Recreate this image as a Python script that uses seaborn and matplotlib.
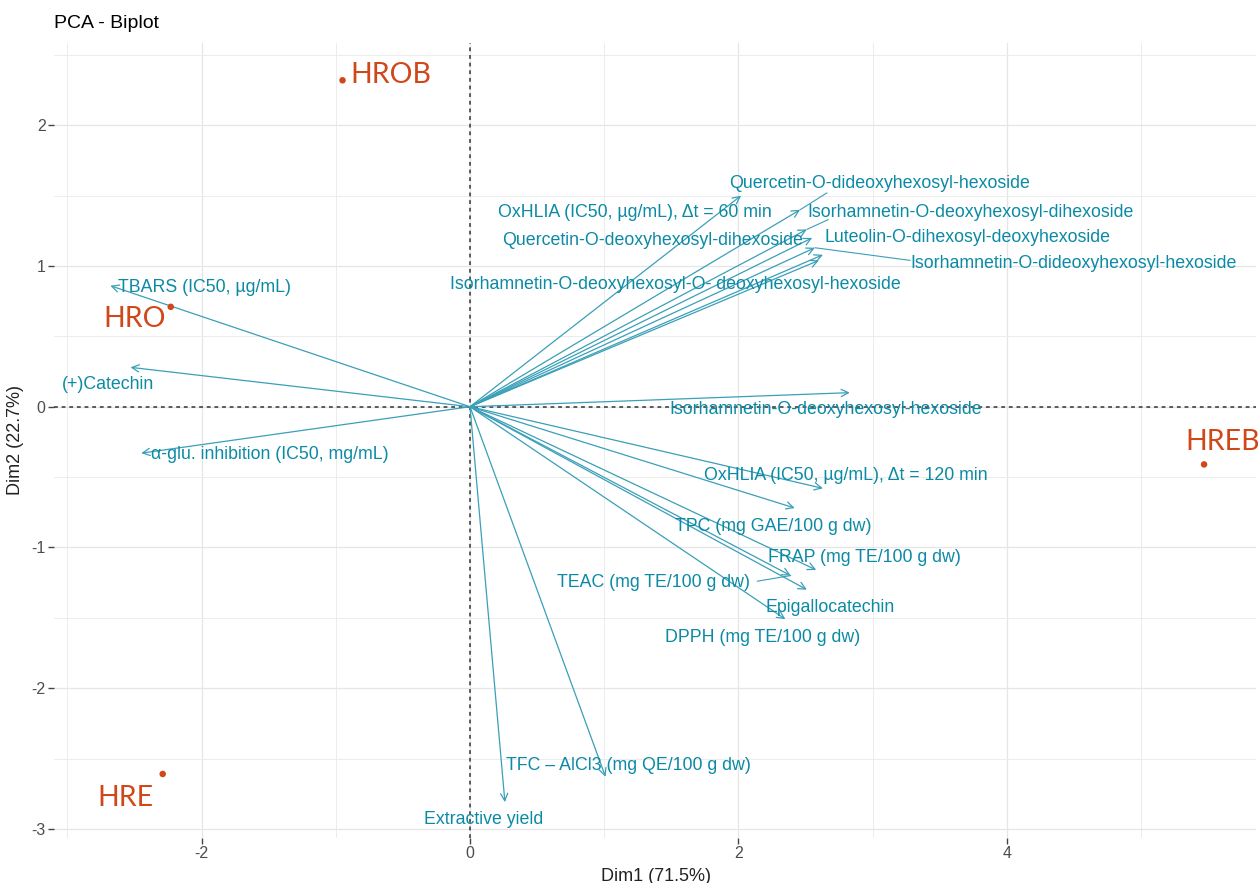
import numpy as np
import pandas as pd
import matplotlib.pyplot as plt
import seaborn as sns

# individuals (PCA scores)
ind_names = ['HROB', 'HRO', 'HRE', 'HREB']
ind_dim1 = [-0.95, -2.23, -2.29, 5.47]
ind_dim2 = [2.32, 0.71, -2.61, -0.41]
ind_label_x = [-0.89, -2.73, -2.78, 5.33]
ind_label_y = [2.30, 0.57, -2.84, -0.31]

# variables (loadings, arrow tips)
var_names = [
    'TBARS (IC50, µg/mL)',
    '(+)Catechin',
    'α-glu. inhibition (IC50, mg/mL)',
    'OxHLIA (IC50, µg/mL), Δt = 60 min',
    'Quercetin-O-dideoxyhexosyl-hexoside',
    'Isorhamnetin-O-deoxyhexosyl-dihexoside',
    'Quercetin-O-deoxyhexosyl-dihexoside',
    'Isorhamnetin-O-dideoxyhexosyl-hexoside',
    'Luteolin-O-dihexosyl-deoxyhexoside',
    'Isorhamnetin-O-deoxyhexosyl-O- deoxyhexosyl-hexoside',
    'Isorhamnetin-O-deoxyhexosyl-hexoside',
    'OxHLIA (IC50, µg/mL), Δt = 120 min',
    'TPC (mg GAE/100 g dw)',
    'FRAP (mg TE/100 g dw)',
    'TEAC (mg TE/100 g dw)',
    'Epigallocatechin',
    'DPPH (mg TE/100 g dw)',
    'TFC – AlCl3 (mg QE/100 g dw)',
    'Extractive yield',
]
var_dim1 = [-2.68, -2.53, -2.45, 2.02, 2.46, 2.51, 2.55, 2.57, 2.60, 2.63,
            2.83, 2.63, 2.42, 2.58, 2.39, 2.51, 2.35, 1.01, 0.26]
var_dim2 = [0.86, 0.28, -0.33, 1.50, 1.40, 1.26, 1.20, 1.13, 1.04, 1.08,
            0.10, -0.58, -0.72, -1.16, -1.20, -1.30, -1.51, -2.63, -2.81]
# repelled label positions
var_label_x = [-1.98, -2.70, -1.49, 1.23, 3.05, 3.73, 1.36, 4.50, 3.71, 1.53,
               2.65, 2.80, 2.26, 2.94, 1.37, 2.68, 2.18, 1.18, 0.10]
var_label_y = [0.85, 0.16, -0.34, 1.38, 1.59, 1.38, 1.18, 1.02, 1.20, 0.87,
               -0.02, -0.49, -0.85, -1.07, -1.25, -1.43, -1.64, -2.55, -2.93]
# connector segments (label side end), nan = none
seg_x = [np.nan] * 4 + [2.66, 2.67, np.nan, 3.28] + [np.nan] * 6 + [2.14] + [np.nan] * 4
seg_y = [np.nan] * 4 + [1.52, 1.33, np.nan, 1.04] + [np.nan] * 6 + [-1.24] + [np.nan] * 4

ind_df = pd.DataFrame({'name': ind_names, 'Dim1': ind_dim1, 'Dim2': ind_dim2})

ind_color = '#d0481a'
var_text = '#0b8aa5'
var_line = '#3a9fb8'

sns.set_theme(style='white')
plt.rcParams['font.family'] = ['Liberation Sans', 'DejaVu Sans']
plt.rcParams['axes.unicode_minus'] = False

fig = plt.figure(figsize=(12.58, 8.83), dpi=100)
ax = fig.add_axes([54 / 1258, 1 - 838 / 883, 1202 / 1258, 795 / 883])

ax.set_xlim(-3.10, 5.857)
ax.set_ylim(-3.065, 2.585)

ax.set_xticks([-2, 0, 2, 4])
ax.set_xticks([-3, -1, 1, 3, 5], minor=True)
ax.set_yticks([-3, -2, -1, 0, 1, 2])
ax.set_yticks([-2.5, -1.5, -0.5, 0.5, 1.5, 2.5], minor=True)
ax.grid(which='major', color='#e6e6e6', lw=0.9)
ax.grid(which='minor', color='#ececec', lw=0.7)
ax.set_axisbelow(True)
for s in ax.spines.values():
    s.set_visible(False)
ax.tick_params(axis='both', which='major', length=4, width=1, color='#444444',
               labelsize=11.5, labelcolor='#4d4d4d', pad=2, bottom=True, left=True)
ax.tick_params(axis='both', which='minor', length=0)

ax.axhline(0, color='#333333', lw=1.1, ls=(0, (2.5, 2.5)), zorder=1)
ax.axvline(0, color='#333333', lw=1.1, ls=(0, (2.5, 2.5)), zorder=1)

# variable arrows
for i, name in enumerate(var_names):
    ax.annotate('', xy=(var_dim1[i], var_dim2[i]), xytext=(0, 0),
                arrowprops=dict(arrowstyle='->', color=var_line, lw=0.9,
                                mutation_scale=13, shrinkA=0, shrinkB=0),
                zorder=3)
    if not np.isnan(seg_x[i]):
        ax.plot([var_dim1[i], seg_x[i]], [var_dim2[i], seg_y[i]],
                color=var_line, lw=0.8, zorder=3)
    ax.text(var_label_x[i], var_label_y[i], name, color=var_text, fontsize=12.8,
            ha='center', va='center', zorder=4)

# individuals
sns.scatterplot(data=ind_df, x='Dim1', y='Dim2', color=ind_color, s=22,
                edgecolor='none', ax=ax, legend=False, zorder=5)
for i, name in enumerate(ind_names):
    ax.text(ind_label_x[i], ind_label_y[i], name, color=ind_color, fontsize=20.5,
            family=['Lato', 'DejaVu Sans'], ha='left', va='baseline', zorder=5)

ax.set_xlabel('')
ax.set_ylabel('')
fig.text(54 / 1258, 1 - 23 / 883, 'PCA - Biplot', fontsize=14, color='black',
         ha='left', va='center')
fig.text(656 / 1258, 1 - 881 / 883, 'Dim1 (71.5%)', fontsize=13, color='#222222',
         ha='center', va='baseline')
fig.text(16 / 1258, 1 - 440 / 883, 'Dim2 (22.7%)', fontsize=13, color='#222222',
         ha='center', va='center', rotation=90)

fig.savefig('out.png', dpi=100)
